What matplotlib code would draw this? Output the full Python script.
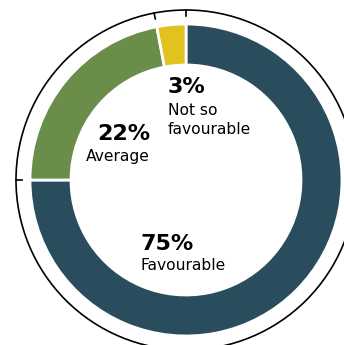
import numpy as np
import matplotlib.pyplot as plt
from matplotlib.patches import Circle

# Survey shares
labels = ['Favourable', 'Average', 'Not so\nfavourable']
values = [75, 22, 3]
colors = ['#2A4D5E', '#6B8D4A', '#E2C21C']

fig = plt.figure(figsize=(3.44, 3.45), dpi=100)
ax = fig.add_axes([0, 0, 1, 1])

r_out, r_in = 156, 115
ax.pie(values, colors=colors, startangle=90, counterclock=False, radius=r_out,
       wedgeprops=dict(width=r_out - r_in, edgecolor='white', linewidth=2))

# outer ring with ticks at segment boundaries
R = 170
ax.add_patch(Circle((0, 0), R, fill=False, color='black', lw=1.2))
bounds = np.cumsum([0] + values[:-1])
for b in bounds:
    ang = np.deg2rad(90 - b * 3.6)
    ax.plot([R * np.cos(ang), (R - 6) * np.cos(ang)],
            [R * np.sin(ang), (R - 6) * np.sin(ang)], color='black', lw=1.2)

# labels
ax.text(-45, -64, f'{values[0]}%', fontsize=16, fontweight='bold', ha='left', va='center')
ax.text(-45, -86, labels[0], fontsize=11.2, ha='left', va='center')
ax.text(-36, 46, f'{values[1]}%', fontsize=16, fontweight='bold', ha='right', va='center')
ax.text(-36, 23, labels[1], fontsize=11.2, ha='right', va='center')
ax.text(-18, 93, f'{values[2]}%', fontsize=16, fontweight='bold', ha='left', va='center')
ax.text(-18, 60, labels[2], fontsize=11.2, ha='left', va='center', linespacing=1.3)

ax.set_xlim(-186, 158)
ax.set_ylim(-165, 180)
ax.set_aspect('equal')
ax.axis('off')

fig.savefig('out.png', dpi=100)
